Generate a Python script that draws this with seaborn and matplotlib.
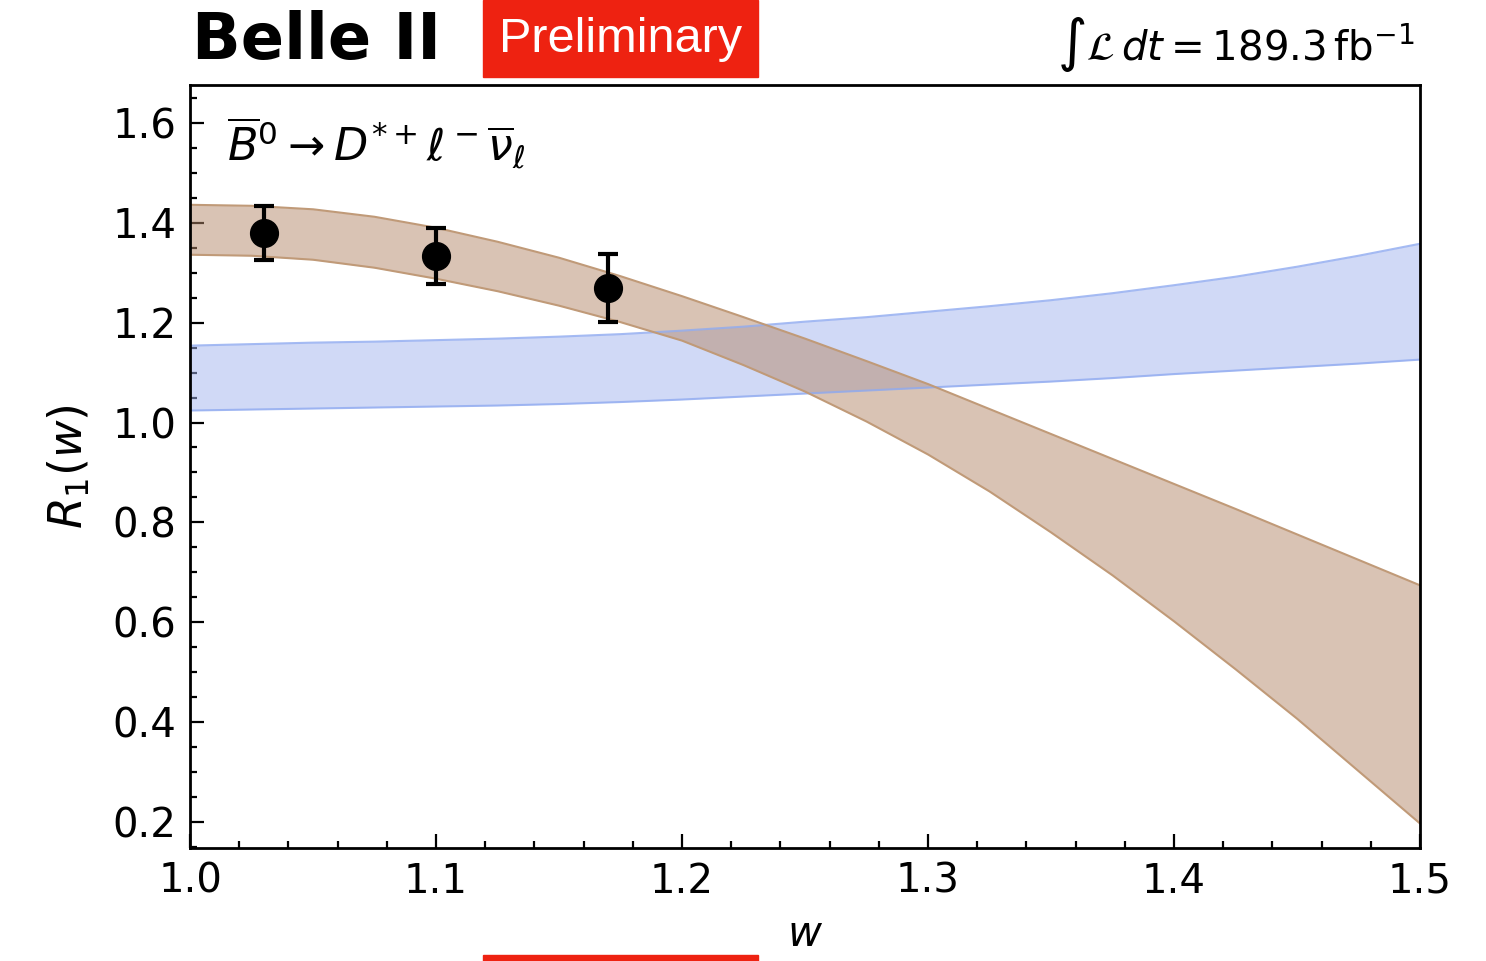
import numpy as np
import pandas as pd
import seaborn as sns
import matplotlib.pyplot as plt
from matplotlib.patches import Rectangle
from matplotlib.ticker import MultipleLocator

# band grid (w)
w_grid = [1.000, 1.025, 1.050, 1.075, 1.100, 1.125, 1.150, 1.175, 1.200, 1.225, 1.250,
          1.275, 1.300, 1.325, 1.350, 1.375, 1.400, 1.425, 1.450, 1.475, 1.500]

# brown band (fit)
fit_hi = [1.436, 1.434, 1.427, 1.412, 1.390, 1.362, 1.330, 1.293, 1.253, 1.211, 1.168,
          1.123, 1.077, 1.027, 0.977, 0.927, 0.877, 0.827, 0.776, 0.725, 0.674]
fit_lo = [1.336, 1.334, 1.326, 1.310, 1.288, 1.263, 1.234, 1.201, 1.164, 1.115, 1.062,
          1.002, 0.936, 0.862, 0.780, 0.694, 0.602, 0.506, 0.407, 0.302, 0.197]

# blue band (prediction)
pred_hi = [1.154, 1.157, 1.160, 1.162, 1.165, 1.168, 1.172, 1.177, 1.184, 1.192, 1.202,
           1.211, 1.222, 1.233, 1.245, 1.259, 1.275, 1.292, 1.312, 1.334, 1.358]
pred_lo = [1.024, 1.026, 1.028, 1.030, 1.032, 1.034, 1.037, 1.041, 1.046, 1.052, 1.058,
           1.064, 1.070, 1.076, 1.082, 1.089, 1.097, 1.104, 1.111, 1.118, 1.126]

# measured points
w_pts = [1.03, 1.10, 1.17]
r1_pts = [1.380, 1.334, 1.270]
r1_err = [0.054, 0.056, 0.068]

BROWN = '#b5896a'
BLUE = '#a3b4ef'


def main() -> None:
    sns.set_theme(style='ticks')
    plt.rcParams['font.family'] = ['DejaVu Sans']
    plt.rcParams['mathtext.fontset'] = 'dejavusans'
    for key in ['text.color', 'axes.labelcolor', 'xtick.color', 'ytick.color', 'axes.edgecolor']:
        plt.rcParams[key] = 'black'

    fig = plt.figure(figsize=(14.86, 9.61), dpi=100)
    ax = fig.add_axes([0.1279, 0.1176, 0.8277, 0.794])

    band = pd.DataFrame({'w': w_grid, 'fit_hi': fit_hi, 'fit_lo': fit_lo,
                         'pred_hi': pred_hi, 'pred_lo': pred_lo})

    ax.fill_between(band['w'], band['pred_lo'], band['pred_hi'], color=BLUE, alpha=0.5, lw=0)
    for col in ['pred_hi', 'pred_lo']:
        sns.lineplot(data=band, x='w', y=col, color='#8faaf0', lw=1.5, alpha=0.8, ax=ax)

    ax.fill_between(band['w'], band['fit_lo'], band['fit_hi'], color=BROWN, alpha=0.5, lw=0)
    for col in ['fit_hi', 'fit_lo']:
        sns.lineplot(data=band, x='w', y=col, color='#c09a78', lw=1.5, ax=ax)

    ax.errorbar(w_pts, r1_pts, yerr=r1_err, fmt='o', color='black', ms=20,
                elinewidth=3, capsize=7, capthick=3, zorder=5)

    ax.set_xlim(1.0, 1.5)
    ax.set_ylim(0.148, 1.676)
    ax.xaxis.set_major_locator(MultipleLocator(0.1))
    ax.xaxis.set_minor_locator(MultipleLocator(0.02))
    ax.yaxis.set_major_locator(MultipleLocator(0.2))
    ax.yaxis.set_minor_locator(MultipleLocator(0.05))
    ax.tick_params(which='both', direction='in', top=False, right=False, width=1.6,
                   labelsize=29, color='black')
    ax.tick_params(which='major', length=10, pad=10)
    ax.tick_params(which='minor', length=5)
    for sp in ax.spines.values():
        sp.set_linewidth(2.0)
        sp.set_color('black')
        sp.set_visible(True)

    ax.set_xlabel(r'$w$', fontsize=30, labelpad=8)
    ax.set_ylabel(r'$R_1(w)$', fontsize=33, labelpad=14)

    ax.text(0.03, 0.96, r'$\overline{B}^0 \rightarrow D^{*+}\ell^-\overline{\nu}_\ell$',
            transform=ax.transAxes, fontsize=32, ha='left', va='top')

    fig.text(0.129, 0.957, 'Belle II', fontsize=46, fontweight='heavy', ha='left', va='center')

    fig.patches.append(Rectangle((483 / 1486, 1 - 77 / 961), 275 / 1486, 77 / 961,
                                 transform=fig.transFigure, color='#ee2211', zorder=1))
    fig.patches.append(Rectangle((483 / 1486, 0), 275 / 1486, 6 / 961,
                                 transform=fig.transFigure, color='#ee2211', zorder=1))
    fig.text(620.5 / 1486, 1 - 40 / 961, 'Preliminary', fontsize=35, color='white',
             family=['Liberation Sans'], ha='center', va='center', zorder=2)

    fig.text(1415 / 1486, 1 - 45 / 961, r'$\int\mathcal{L}\,dt = 189.3\,\mathrm{fb}^{-1}$',
             fontsize=29, ha='right', va='center')

    fig.savefig('out.png', dpi=100)


if __name__ == '__main__':
    main()
